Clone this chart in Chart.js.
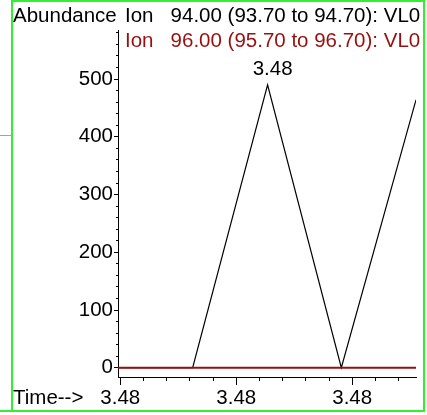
<!DOCTYPE html>
<html>
<head>
<meta charset="utf-8">
<script src="https://cdn.jsdelivr.net/npm/chart.js@4.4.1/dist/chart.umd.min.js"></script>
<style>
  html, body { margin: 0; padding: 0; background: #fff; }
  #wrap { position: relative; width: 427px; height: 415px; }
  #frame { position: absolute; left: 11px; top: 0; width: 414px; height: 412px;
           border: 2px solid #33ee33; box-sizing: border-box; pointer-events: none; }
  #side  { position: absolute; left: 0; top: 135px; width: 12px; height: 277px;
           border-top: 1px solid #33ee33; border-bottom: 2px solid #33ee33;
           box-sizing: border-box; pointer-events: none; }
</style>
</head>
<body>
<div id="wrap">
  <canvas id="chart-tic" width="427" height="415"></canvas>
  <div id="frame"></div>
  <div id="side"></div>
</div>
<script>
/* scan positions (x axis, one unit = one minor tick) */
const scanPos    = [-0.1, 3.12, 6.35, 9.53, 12.75];
/* abundance for each ion trace */
const ion94      = [0, 0, 490, 0, 464];
const ion96      = [0, 0, 0, 0, 0];
const ionLabels  = ['Ion   94.00 (93.70 to 94.70): VL0', 'Ion   96.00 (95.70 to 96.70): VL0'];
const ionColors  = ['#000000', '#961010'];
/* tick positions */
const yMajor     = [0, 100, 200, 300, 400, 500];
const yMinor     = [0, 20, 40, 60, 80, 100, 120, 140, 160, 180, 200, 220, 240, 260, 280,
                    300, 320, 340, 360, 380, 400, 420, 440, 460, 480, 500, 520, 540, 560, 580];
const xMajor     = [0, 5, 10];
const xMinor     = [0, 1, 2, 3, 4, 5, 6, 7, 8, 9, 10, 11, 12];
const timeLabel  = '3.48';
const peakLabel  = '3.48';

const FONT = "'Liberation Sans', Arial, sans-serif";

function pts(ys) { return scanPos.map((x, i) => ({ x, y: ys[i] })); }
function fixTicks(vals) { return s => { s.ticks = vals.map(v => ({ value: v })); }; }

/* Headers, axis names and the peak label */
const textPlugin = {
  id: 'texts',
  afterDraw(chart) {
    const ctx = chart.ctx;
    const area = chart.chartArea;
    ctx.save();
    ctx.font = '20.5px ' + FONT;
    ctx.textBaseline = 'middle';
    ctx.textAlign = 'left';
    ctx.fillStyle = '#000';
    ctx.fillText('Abundance', 13, 16);
    ctx.fillText('Time-->', 13, 398);
    ionLabels.forEach((txt, i) => {
      ctx.fillStyle = ionColors[i];
      ctx.fillText(txt, area.left + 7, 16 + i * 25);
    });
    // peak label above the tallest point of the first trace
    const meta = chart.getDatasetMeta(1);
    const top = ion94.indexOf(Math.max(...ion94));
    const p = meta.data[top];
    ctx.fillStyle = '#000';
    ctx.textAlign = 'center';
    ctx.textBaseline = 'bottom';
    ctx.fillText(peakLabel, p.x + 5, p.y - 5);
    ctx.restore();
  }
};

new Chart(document.getElementById('chart-tic'), {
  type: 'line',
  data: {
    datasets: [
      { label: ionLabels[1], data: pts(ion96), borderColor: ionColors[1], borderWidth: 2,
        pointRadius: 0, tension: 0, order: 0 },
      { label: ionLabels[0], data: pts(ion94), borderColor: ionColors[0], borderWidth: 1.2,
        pointRadius: 0, tension: 0, order: 1 }
    ]
  },
  options: {
    responsive: false,
    animation: false,
    events: [],
    layout: { padding: { left: 0, right: 11, top: 30, bottom: 0 } },
    plugins: { legend: { display: false }, tooltip: { enabled: false } },
    scales: {
      xMinor: {
        type: 'linear', position: 'bottom', min: -0.1, max: 12.75,
        afterFit: s => { s.height = 0; },
        afterBuildTicks: fixTicks(xMinor),
        ticks: { display: false },
        grid: { drawOnChartArea: false, tickLength: 4, tickColor: '#000' },
        border: { display: false }
      },
      x: {
        type: 'linear', position: 'bottom', min: -0.1, max: 12.75,
        afterFit: s => { s.height = 38; },
        afterBuildTicks: fixTicks(xMajor),
        ticks: { maxRotation: 0, padding: 1, autoSkip: false,
                 color: '#000', font: { size: 20.5, family: FONT },
                 callback: () => timeLabel },
        grid: { drawOnChartArea: false, tickLength: 8, tickColor: '#000' },
        border: { display: true, color: '#000', width: 1 }
      },
      yMinor: {
        type: 'linear', position: 'left', min: -16, max: 585,
        afterFit: s => { s.width = 0; },
        afterBuildTicks: fixTicks(yMinor),
        ticks: { display: false },
        grid: { drawOnChartArea: false, tickLength: 2, tickColor: '#000' },
        border: { display: false }
      },
      y: {
        type: 'linear', position: 'left', min: -16, max: 585,
        afterFit: s => { s.width = 118; },
        afterBuildTicks: fixTicks(yMajor),
        ticks: { padding: 1, autoSkip: false,
                 color: '#000', font: { size: 20.5, family: FONT } },
        grid: { drawOnChartArea: false, tickLength: 4, tickColor: '#000' },
        border: { display: true, color: '#000', width: 1 }
      }
    }
  },
  plugins: [textPlugin]
});
</script>
</body>
</html>
